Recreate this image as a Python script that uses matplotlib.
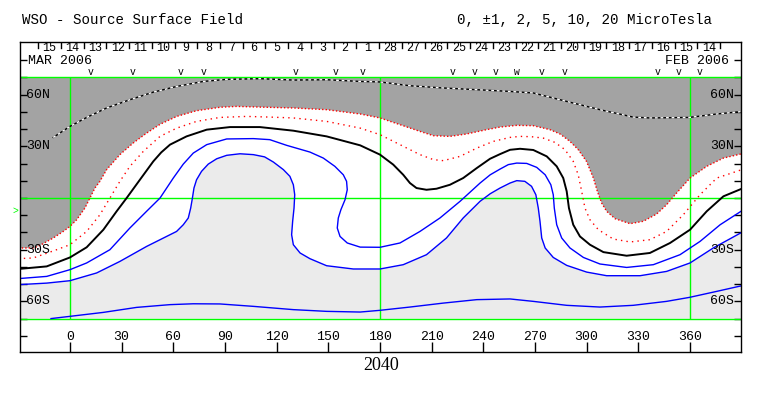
import matplotlib
matplotlib.use('Agg')
import matplotlib.pyplot as plt
import numpy as np

# Carrington rotation and contour levels (microtesla)
rotation = '2040'
levels_text = '0, \u00b11, 2, 5, 10, 20 MicroTesla'

# contour lines: longitude (deg), latitude (deg)
neg5_lon = [-9.7, 0, 9.7, 21.3, 34.8, 48.4, 62, 77.4, 91, 110.3, 129.7, 149, 168.5, 180,
            197.4, 216.8, 236.2, 255.5, 269, 288.4, 307.7, 327, 336.7, 359.6, 375.5, 391]
neg5_lat = [35.2, 41.6, 46.8, 52.3, 57.1, 61.5, 64.8, 67.7, 68.9, 69.3, 68.5, 68.7, 67.7, 67.4,
            65.2, 63.9, 62.9, 61.9, 61, 56.1, 51.3, 47, 46.5, 46.8, 48.8, 50.3]

neg2_lon = [-30, -21, -17.4, -9.7, -3.9, 0, 3.9, 8.7, 11.6, 14.5, 17.4, 21.3, 25.2, 29, 36.8,
            44.5, 52.3, 62, 73.5, 87.1, 96.8, 110.3, 129.7, 149, 168.5, 180, 191.6, 203.2, 211,
            220.6, 230.3, 241.9, 249.7, 259.4, 269, 278.7, 284.5, 290.3, 295.1, 299.9, 303.9,
            306.2, 308.7, 311.6, 316.5, 325.2, 332.9, 340.6, 346.4, 352.2, 360, 369.7, 379.4, 391]
neg2_lat = [-29, -29, -27.5, -23.2, -19.4, -16.5, -12.6, -5.8, 0, 5.8, 9.7, 16.5, 20.9, 25.2, 32,
            37.7, 42.8, 47.4, 50.7, 52.7, 53.2, 52.8, 52.3, 51.3, 48.8, 46.5, 42.6, 38.7, 36.2,
            35.8, 37.2, 39.7, 41.2, 42.2, 42, 39.7, 37.2, 32.9, 28.1, 21.3, 11.6,
            3.9, -2.9, -7.7, -12, -14.9, -13.5, -9.3, -3.9, 2.9, 11.6, 18.4, 23.2, 25.9]

neg1_lon = [-30, -21.3, -7.7, 0, 9.7, 17.4, 23.2, 29, 34.8, 42.6, 52.3, 62, 73.5, 87.1, 102.6, 116,
            129.7, 149, 168.5, 180, 191.6, 203.2, 211, 216.8, 226.5, 236.2, 245.8, 255.5, 261.3,
            268, 274.8, 281.6, 287.4, 292.2, 295.1, 297.1, 299, 301.9, 306.8, 315.4, 325.2,
            336.7, 346.4, 356.1, 365.8, 375.5, 391]
neg1_lat = [-35.2, -34.8, -30, -27.1, -19.4, -9.7, 0, 9.7, 18.4, 27.1, 35.8, 40.6, 44.5, 46.8, 47.4, 47,
            46.5, 44.5, 40.6, 36.8, 31, 25.2, 22.3, 21.7, 24.2, 29, 32.9, 35.2, 35.8,
            35.6, 34.8, 32.3, 28.1, 21.3, 13.5, 3.9, -5.8, -12.6, -18.4, -23.8, -25.5,
            -24.2, -19.4, -9.7, 1.9, 11.6, 16.8]

zero_lon = [-30, -13.5, 0, 9.7, 19.4, 27.1, 32.9, 40.6, 48.4, 53, 58.1, 67.7, 79.4, 92.9, 110.3,
            129.7, 149, 168.5, 180, 187.7, 193.5, 197.4, 201.2, 207, 212.8, 220.6, 228.3, 236.2,
            243.9, 249.7, 255.5, 261.3, 269, 276.8, 282.6, 286.4, 288.4, 289.7, 292.2, 296.1,
            301.9, 309.7, 323.2, 336.7, 348.4, 360, 369.7, 379.4, 391]
zero_lat = [-41.2, -39.7, -34.5, -28.6, -18.4, -7.7, 0, 10.6, 21.3, 26.5, 31, 35.8, 39.7, 41.2, 41.2,
            39.1, 35.8, 30.6, 25.2, 19.4, 13.5, 8.7, 5.8, 4.8, 5.4, 7.7, 11.6, 17.4,
            22.8, 25.5, 28, 28.6, 27.9, 24.2, 18.4, 11.6, 3.9, -5.8, -15.5, -22.3,
            -27.1, -31.4, -33.5, -31.9, -26.1, -18.4, -7.7, 1, 5.8]

pos1_lon = [-30, -13.5, 0, 9.7, 23.2, 34.8, 44.5, 52.3, 60, 65.8, 71.6, 79.4, 91, 106.5, 116,
            125.8, 139.3, 147.1, 153.8, 158.7, 160.6, 161, 159.7, 157.3, 155.8, 155.2, 156.8,
            161, 168.5, 180, 191.6, 203.2, 214.8, 226.5, 238.1, 244, 249.7, 254.5, 259.4,
            265.2, 271, 275.9, 279.2, 280.6, 281.2, 282.6, 285.5, 290.3, 298.1, 307.7, 323.2,
            338.7, 354.2, 365.8, 377.5, 391]
pos1_lat = [-46.8, -45.5, -41.6, -37.7, -30, -17.4, -7.7, 0, 11.6, 19.7, 26.1, 31, 34.3, 34.5, 33.9,
            30.6, 26.7, 23.2, 18.4, 13.5, 9.7, 4.8, -1, -6.8, -11.6, -17.4, -22.3,
            -26.1, -28.5, -28.6, -26.1, -19.4, -11.6, -1.9, 8.7, 13.5, 16.8, 19.4, 20.3,
            20.1, 17.8, 13.5, 7.7, 1.9, -5.8, -15.5, -23.2, -29, -34.5, -38.3, -40.3,
            -38.7, -32.9, -25.2, -15.5, -6.8]

pos2_lon = [-30, -13.5, 0, 15.5, 29, 44.5, 56.1, 61.9, 65.8, 68.7, 70.1, 71.1, 72, 73.5, 76.4,
            80.3, 85.2, 91, 98.7, 106.5, 113, 118.1, 123.9, 127.7, 129.7, 130.5, 130.1, 129.3,
            128.7, 129.7, 133.6, 139.3, 149, 164.5, 180, 193.5, 207, 218.6, 228.3, 238.1, 244,
            249.7, 255.5, 259.4, 264.1, 268, 270.5, 271.9, 272.9, 273.9, 275.9, 280.6, 288.4,
            300, 311.6, 331, 346.4, 360, 373.5, 391]
pos2_lat = [-50.3, -49.4, -48, -43.5, -36.8, -28.1, -22.3, -19.4, -15.5, -11.6, -5.8, 0, 5.8, 10.6, 15.5,
            19.7, 22.8, 24.8, 25.7, 25.2, 23.9, 20.9, 16.5, 12.6, 7.7, 1.9, -5.8, -13.5,
            -21.3, -27.1, -31.9, -35.2, -39.3, -41.2, -41.2, -38.7, -32.9, -23.2, -11.6, -1.9, 2.5,
            5.8, 8.7, 10.1, 9.7, 6.8, 1.9, -5.8, -13.5, -23.2, -29, -34.5, -39.1,
            -43, -45.1, -45.1, -42.6, -37.7, -29, -19.4]

pos5_lon = [-11, 0, 19.4, 38.7, 58.1, 71.6, 87.1, 106.5, 129.7, 149, 168.5, 180, 197.4, 216.8,
            236.2, 255.5, 269, 288.4, 307.7, 327, 346.4, 359.6, 375.5, 391]
pos5_lat = [-70, -68.7, -66.4, -63.5, -61.9, -61.4, -61.5, -62.9, -64.8, -65.8, -66.2, -65.2, -63.3, -61,
            -59, -58.6, -60, -62.3, -63.3, -62.3, -60, -57.7, -54.2, -50.7]

# observation marks along the top
obs_lon = [12.2, 36.1, 64, 77.4, 130.8, 154.3, 170.1, 222.3, 234.7, 246.9, 259.3, 273.7,
           287.1, 341, 353.5, 365.4]
obs_mark = ['v'] * 10 + ['w'] + ['v'] * 5

# day labels, right to left in time order starting Feb 14
day_labels = [str(d) for d in range(14, 29)] + [str(d) for d in range(1, 16)]
feb14_lon = 377.5
deg_per_day = 360 / 27.2753

lat_ticks = [60, 30, -30, -60]
lat_labels = ['60N', '30N', '30S', '60S']
lon_ticks = list(range(0, 361, 30))

mono = 'Liberation Mono'
W, H = 763, 396
fig = plt.figure(figsize=(W / 100, H / 100), dpi=100)
ax = fig.add_axes([20 / W, 44 / H, 721 / W, 310 / H])
ax.set_xlim(-29.0, 389.6)
ax.set_ylim(-89.4, 90.6)

# shaded polarity regions
ax.fill(neg2_lon + [391, -30], neg2_lat + [70, 70], color='#a3a3a3', lw=0)
ax.fill(pos2_lon + [391, -30], pos2_lat + [-70, -70], color='#ebebeb', lw=0)

green = '#00ff00'
for y in [70, 0, -70]:
    ax.axhline(y, color=green, lw=1)
ax.vlines([0, 180, 360], -70, 70, color=green, lw=1)

ax.plot(neg5_lon, neg5_lat, color='black', lw=1)
ax.plot(neg5_lon, neg5_lat, color='white', lw=1, dashes=(2, 2))
ax.plot(neg2_lon, neg2_lat, color='red', lw=1, ls=(0, (1, 1.5)))
ax.plot(neg1_lon, neg1_lat, color='red', lw=1, ls=(0, (1, 3)))
ax.plot(zero_lon, zero_lat, color='black', lw=1.4)
for lo, la in [(pos1_lon, pos1_lat), (pos2_lon, pos2_lat), (pos5_lon, pos5_lat)]:
    ax.plot(lo, la, color='blue', lw=1)

# axis ticks
ax.set_yticks(np.arange(-80, 81, 10))
ax.set_xticks(lon_ticks)
ax.tick_params(axis='y', direction='in', length=5, left=True, right=True,
               labelleft=False, width=1)
ax.tick_params(axis='x', direction='in', length=7, top=False, labelbottom=False, width=1)
for s in ax.spines.values():
    s.set_linewidth(1)

for lat, lab in zip(lat_ticks, lat_labels):
    ax.text(-25.3, lat, lab, ha='left', va='center', family=mono, fontsize=9.5)
    ax.text(385.5, lat, lab, ha='right', va='center', family=mono, fontsize=9.5)
for lon in lon_ticks:
    ax.text(lon, -80.7, str(lon), ha='center', va='center', family=mono, fontsize=9.5)

# day strip at the top
for k in range(len(day_labels) + 1):
    x = feb14_lon - k * deg_per_day
    ax.plot([x, x], [90.0, 87.2], color='black', lw=1)
for k, lab in enumerate(day_labels):
    x = feb14_lon - (k + 0.5) * deg_per_day
    ax.text(x, 87.3, lab, ha='center', va='center', family=mono, fontsize=8.5)
ax.text(-24.5, 79.5, 'MAR 2006', ha='left', va='center', family=mono, fontsize=9.5)
ax.text(382.8, 79.5, 'FEB 2006', ha='right', va='center', family=mono, fontsize=9.5)
for lon, m in zip(obs_lon, obs_mark):
    ax.text(lon, 73.0, m, ha='center', va='center', family=mono, fontsize=7)

ax.text(-31.4, -7.3, '>', color=green, ha='center', va='center', family=mono,
        fontsize=7, clip_on=False)
ax.text(180.6, -97.5, rotation, ha='center', va='center', family='Liberation Serif',
        fontsize=13, clip_on=False)

fig.text(22 / W, 1 - 20 / H, 'WSO - Source Surface Field', ha='left', va='center',
         family=mono, fontsize=10.2)
fig.text(712 / W, 1 - 20 / H, levels_text, ha='right', va='center',
         family=mono, fontsize=10.2)

fig.savefig('out.png', dpi=100)
plt.close(fig)
